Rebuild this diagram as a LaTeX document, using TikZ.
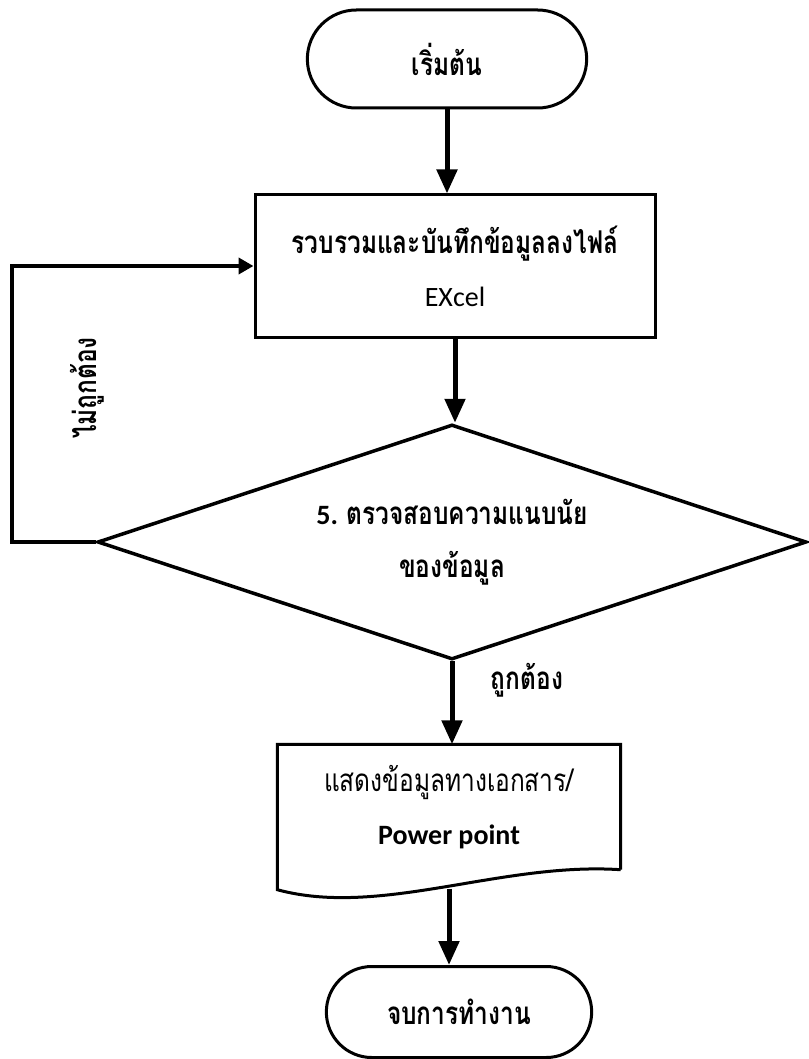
\documentclass[tikz,border=0pt]{standalone}
\usepackage{fontspec}
\setmainfont{Carlito}
\newfontfamily\thai[Script=Thai,Scale=1.12,FakeStretch=0.78]{Loma}
\usetikzlibrary{shapes.geometric,shapes.misc,arrows.meta,calc}

\begin{document}
\begin{tikzpicture}
  [x=1pt,y=-1pt,
   every node/.style={font=\bfseries\fontsize{28}{53}\selectfont,align=center},
   term/.style={draw,rounded rectangle,line width=3pt,minimum width=286pt,minimum height=98pt},
   proc/.style={draw,rectangle,line width=3pt,minimum width=400pt,minimum height=142pt},
   decide/.style={draw,diamond,aspect=3,inner sep=0pt,line width=3.5pt,minimum width=709pt,minimum height=235pt},
   arr/.style={line width=5pt,-{Triangle[width=20pt,length=24pt]}}]
  \useasboundingbox (0,0) rectangle (808,1059);

  \node[term] (start) at (447,59)   {\thai เริ่มต้น};
  \node[proc] (save)  at (455,266)  {{\thai รวบรวมและบันทึกข้อมูลลงไฟล์}\\{\mdseries EXcel}};
  \node[decide] (check) at (452,542) {5. {\thai ตรวจสอบความแนบนัย}\\{\thai ของข้อมูล}};
  \node[minimum width=343pt,minimum height=125pt] (show) at (449,807)
    {{\thai\mdseries แสดงข้อมูลทางเอกสาร/}\\Power point};
  \node[term,minimum width=272pt,minimum height=91pt] (stop) at (459,1012) {\thai จบการทำงาน};

  % document outline with wavy bottom
  \draw[line width=3pt] (show.south east) -- (show.north east) -- (show.north west)
    -- ([yshift=-20pt]show.south west) .. controls +(103,28) and +(-120,-8) .. (show.south east);
  \coordinate (wave) at ([yshift=-19pt]show.south);
  \coordinate (back) at (12,542);

  \foreach \from/\to in {start.south/save.north,save.south/check.north,check.south/show.north,wave/stop.north}
    \draw[arr] (\from) -- (\from |- \to);

  \draw[line width=4pt,-{Triangle[width=16pt,length=15pt]}] (check.west) -- (back) |- (save.west);

  \node[rotate=90] (no)  at (87,388)  {\thai ไม่ถูกต้อง};
  \node            (yes) at (527,680) {\thai ถูกต้อง};

\end{tikzpicture}
\end{document}
